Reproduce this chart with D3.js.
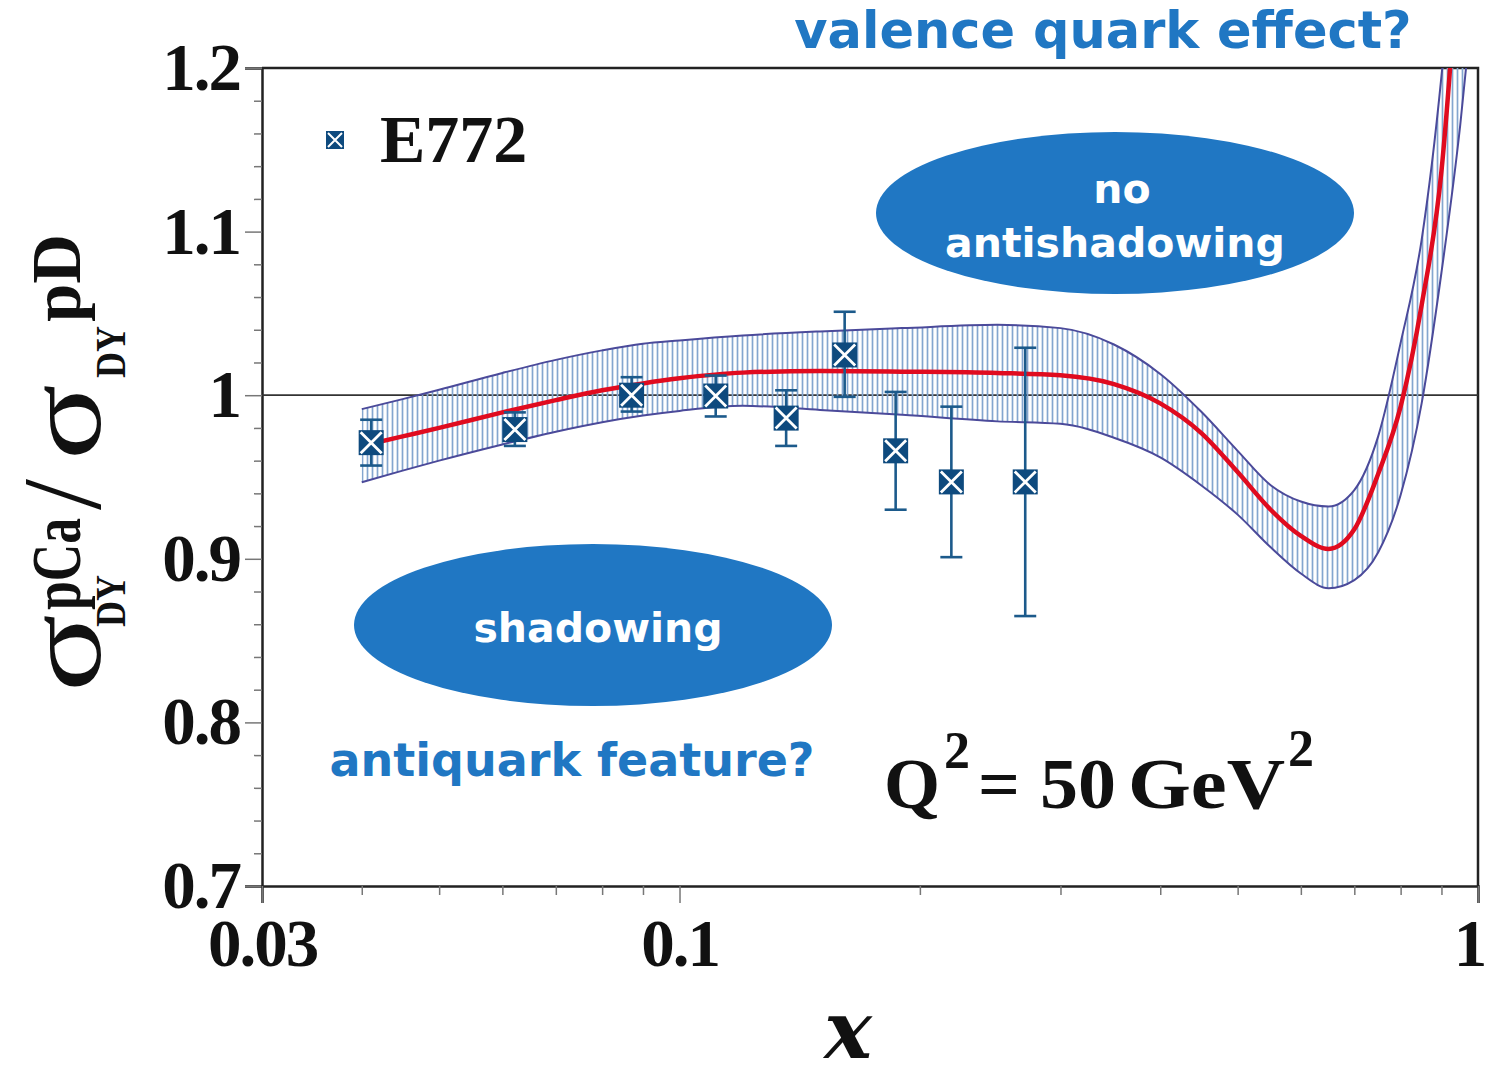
<!DOCTYPE html>
<html>
<head>
<meta charset="utf-8">
<script src="https://cdn.jsdelivr.net/npm/d3@7"></script>
<style>
  body { margin: 0; background: #fff; }
  svg { display: block; }
</style>
</head>
<body>
<div id="chart"></div>
<script>
// E772 data points (x, ratio, error bar low / high)
const e772X  = [0.0411, 0.0622, 0.0871, 0.111, 0.136, 0.161, 0.1865, 0.219, 0.271];
const e772Y  = [0.971, 0.979, 1.000, 0.9995, 0.986, 1.0246, 0.966, 0.947, 0.947];
const e772Lo = [0.957, 0.969, 0.990, 0.987, 0.969, 0.999, 0.930, 0.901, 0.865];
const e772Hi = [0.985, 0.9895, 1.011, 1.012, 1.003, 1.051, 1.002, 0.993, 1.029];

// fit curve and its uncertainty band
const curveX   = [0.040, 0.045, 0.05, 0.06, 0.07, 0.08, 0.09, 0.10, 0.12, 0.15, 0.19, 0.25, 0.30, 0.35, 0.40, 0.45, 0.50, 0.55, 0.60, 0.65, 0.70, 0.75, 0.80, 0.85, 0.90, 0.95, 0.98];
const curveMid = [0.969, 0.9748, 0.980, 0.9895, 0.997, 1.003, 1.0072, 1.0103, 1.0138, 1.0148, 1.0144, 1.0136, 1.0122, 1.0068, 0.995, 0.977, 0.953, 0.930, 0.914, 0.906, 0.918, 0.952, 0.993, 1.055, 1.137, 1.29, 1.40];
const curveUp  = [0.9915, 0.9976, 1.0033, 1.0136, 1.0216, 1.0274, 1.0315, 1.0335, 1.0365, 1.039, 1.041, 1.043, 1.041, 1.031, 1.013, 0.990, 0.966, 0.945, 0.935, 0.932, 0.942, 0.975, 1.032, 1.095, 1.195, 1.33, 1.45];
const curveLo  = [0.9468, 0.9539, 0.960, 0.9699, 0.9777, 0.9835, 0.9876, 0.9904, 0.9935, 0.991, 0.988, 0.984, 0.9825, 0.974, 0.962, 0.945, 0.927, 0.907, 0.891, 0.882, 0.887, 0.904, 0.939, 0.995, 1.075, 1.165, 1.23];

const yMajor = [0.7, 0.8, 0.9, 1.0, 1.1, 1.2];
const yMinor = [0.72, 0.74, 0.76, 0.78, 0.82, 0.84, 0.86, 0.88, 0.92, 0.94, 0.96, 0.98, 1.02, 1.04, 1.06, 1.08, 1.12, 1.14, 1.16, 1.18];
const xMajor = [0.03, 0.1, 1];
const xMinor = [0.04, 0.05, 0.06, 0.07, 0.08, 0.09, 0.2, 0.3, 0.4, 0.5, 0.6, 0.7, 0.8, 0.9];

const W = 1487, H = 1079;
const pLeft = 262, pRight = 1478, pTop = 68, pBottom = 886;
const serif = "'Liberation Serif', 'Times New Roman', serif";
const sans = "'DejaVu Sans', Verdana, sans-serif";
const blue = "#2077c3";

let svg = d3.select("#chart").append("svg")
    .attr("width", W).attr("height", H);

svg.append("rect").attr("width", W).attr("height", H).attr("fill", "#fff");

let x = d3.scaleLog().domain([0.03, 1]).range([pLeft, pRight]);
let y = d3.scaleLinear().domain([0.7, 1.2]).range([pBottom, pTop]);

let defs = svg.append("defs");
defs.append("clipPath").attr("id", "plotclip")
    .append("rect").attr("x", pLeft).attr("y", pTop)
    .attr("width", pRight - pLeft).attr("height", pBottom - pTop);
let pat = defs.append("pattern").attr("id", "hatch")
    .attr("patternUnits", "userSpaceOnUse")
    .attr("width", 5).attr("height", 10);
pat.append("line")
    .attr("x1", 2.5).attr("x2", 2.5).attr("y1", 0).attr("y2", 10)
    .attr("stroke", "#84a6cf").attr("stroke-width", 1.7);

// axes
let fmtY = d => d === 1 ? "1" : d.toFixed(1);
svg.append("g")
    .attr("transform", "translate(" + pLeft + ",0)")
    .call(d3.axisLeft(y).tickValues(yMajor).tickSize(17).tickPadding(5).tickFormat(fmtY));
svg.append("g")
    .attr("transform", "translate(" + pLeft + ",0)")
    .call(d3.axisLeft(y).tickValues(yMinor).tickSize(8).tickFormat(""))
    .call(g => g.select(".domain").remove());

svg.append("g")
    .attr("transform", "translate(0," + pBottom + ")")
    .call(d3.axisBottom(x).tickValues(xMajor).tickSize(17).tickPadding(15)
        .tickFormat(d => d === 1 ? "1" : String(d)))
    .call(g => g.selectAll(".tick text").filter(d => d === 1).attr("dx", -9));
svg.append("g")
    .attr("transform", "translate(0," + pBottom + ")")
    .call(d3.axisBottom(x).tickValues(xMinor).tickSize(9).tickFormat(""))
    .call(g => g.select(".domain").remove());

svg.selectAll(".tick line").attr("stroke", "#777").attr("stroke-width", 1.5);
svg.selectAll(".domain").attr("stroke", "#222").attr("stroke-width", 2.5);
svg.selectAll(".tick text")
    .attr("font-family", serif).attr("font-weight", "bold")
    .attr("font-size", 67).attr("fill", "#111")
    .attr("letter-spacing", -2);

// frame top / right
svg.append("path")
    .attr("d", "M" + pLeft + "," + pTop + "H" + pRight + "V" + pBottom)
    .attr("fill", "none").attr("stroke", "#222").attr("stroke-width", 2.5);

// reference line at 1
svg.append("line")
    .attr("x1", pLeft).attr("x2", pRight)
    .attr("y1", y(1)).attr("y2", y(1))
    .attr("stroke", "#333").attr("stroke-width", 1.8);

// band and fit curve
let plot = svg.append("g").attr("clip-path", "url(#plotclip)");
let pts = curveX.map((v, i) => ({x: v, mid: curveMid[i], up: curveUp[i], lo: curveLo[i]}));
let cr = d3.curveMonotoneX;

plot.append("path").datum(pts)
    .attr("d", d3.area().curve(cr).x(d => x(d.x)).y0(d => y(d.lo)).y1(d => y(d.up)))
    .attr("fill", "url(#hatch)");
["up", "lo"].forEach(k => {
    plot.append("path").datum(pts)
        .attr("d", d3.line().curve(cr).x(d => x(d.x)).y(d => y(d[k])))
        .attr("fill", "none").attr("stroke", "#4b4a9a").attr("stroke-width", 2);
});
plot.append("path").datum(pts)
    .attr("d", d3.line().curve(cr).x(d => x(d.x)).y(d => y(d.mid)))
    .attr("fill", "none").attr("stroke", "#e00b1f").attr("stroke-width", 4.5);

// data points
let data = e772X.map((v, i) => ({x: v, y: e772Y[i], lo: e772Lo[i], hi: e772Hi[i]}));
let eb = svg.append("g").attr("stroke", "#1c5a8b").attr("stroke-width", 2.6);
data.forEach(d => {
    let cx = x(d.x);
    eb.append("line").attr("x1", cx).attr("x2", cx).attr("y1", y(d.hi)).attr("y2", y(d.lo));
    eb.append("line").attr("x1", cx - 11).attr("x2", cx + 11).attr("y1", y(d.hi)).attr("y2", y(d.hi));
    eb.append("line").attr("x1", cx - 11).attr("x2", cx + 11).attr("y1", y(d.lo)).attr("y2", y(d.lo));
});

function marker(g, cx, cy, s) {
    g.append("rect").attr("x", cx - s / 2).attr("y", cy - s / 2)
        .attr("width", s).attr("height", s).attr("fill", "#0e4a7e");
    let a = s / 2 - 2;
    g.append("path")
        .attr("d", "M" + (cx - a) + "," + (cy - a) + "L" + (cx + a) + "," + (cy + a) +
                   "M" + (cx + a) + "," + (cy - a) + "L" + (cx - a) + "," + (cy + a))
        .attr("stroke", "#fff").attr("stroke-width", s / 9);
}
let mk = svg.append("g");
data.forEach(d => marker(mk, x(d.x), y(d.y), 25));

// legend
marker(svg, 335, 140, 18);
svg.append("text").attr("x", 380).attr("y", 162)
    .attr("font-family", serif).attr("font-weight", "bold")
    .attr("font-size", 68).attr("fill", "#111").text("E772");

// Q^2 label
let q = svg.append("g")
    .attr("font-family", serif).attr("font-weight", "bold").attr("fill", "#111");
q.append("text").attr("x", 884).attr("y", 808).attr("font-size", 72)
    .attr("textLength", 56).attr("lengthAdjust", "spacingAndGlyphs").text("Q");
q.append("text").attr("x", 944).attr("y", 768).attr("font-size", 52).text("2");
q.append("text").attr("x", 978).attr("y", 808).attr("font-size", 72)
    .attr("textLength", 42).attr("lengthAdjust", "spacingAndGlyphs").text("=");
q.append("text").attr("x", 1040).attr("y", 808).attr("font-size", 72)
    .attr("textLength", 76).attr("lengthAdjust", "spacingAndGlyphs").text("50");
q.append("text").attr("x", 1128).attr("y", 808).attr("font-size", 72)
    .attr("textLength", 157).attr("lengthAdjust", "spacingAndGlyphs").text("GeV");
q.append("text").attr("x", 1288).attr("y", 766).attr("font-size", 52).text("2");

// y axis title, built in a rotated frame
let yt = svg.append("g").attr("transform", "rotate(-90)")
    .attr("font-family", serif).attr("fill", "#111");
yt.append("text").attr("x", -692).attr("y", 100).attr("font-size", 108)
    .attr("textLength", 78).attr("lengthAdjust", "spacingAndGlyphs").text("σ");
yt.append("text").attr("x", -627).attr("y", 125).attr("font-size", 42).attr("font-weight", "bold")
    .attr("textLength", 52).attr("lengthAdjust", "spacingAndGlyphs").text("DY");
yt.append("text").attr("x", -610).attr("y", 80).attr("font-size", 70).attr("font-weight", "bold")
    .attr("textLength", 92).attr("lengthAdjust", "spacingAndGlyphs").text("pCa");
yt.append("text").attr("x", -510).attr("y", 100).attr("font-size", 112).text("/");
yt.append("text").attr("x", -460).attr("y", 100).attr("font-size", 108)
    .attr("textLength", 76).attr("lengthAdjust", "spacingAndGlyphs").text("σ");
yt.append("text").attr("x", -378).attr("y", 125).attr("font-size", 42).attr("font-weight", "bold")
    .attr("textLength", 52).attr("lengthAdjust", "spacingAndGlyphs").text("DY");
yt.append("text").attr("x", -322).attr("y", 80).attr("font-size", 70).attr("font-weight", "bold")
    .attr("textLength", 88).attr("lengthAdjust", "spacingAndGlyphs").text("pD");

// x axis title
svg.append("text").attr("x", 848).attr("y", 1058).attr("text-anchor", "middle")
    .attr("font-family", "'DejaVu Serif', serif").attr("font-weight", "bold").attr("font-style", "italic")
    .attr("font-size", 80).attr("fill", "#111").text("x");

// annotations
svg.append("ellipse").attr("cx", 1115).attr("cy", 213).attr("rx", 239).attr("ry", 81).attr("fill", blue);
svg.append("ellipse").attr("cx", 593).attr("cy", 625).attr("rx", 239).attr("ry", 81).attr("fill", blue);

let ann = svg.append("g").attr("font-family", sans).attr("font-weight", "bold");
ann.append("text").attr("x", 1122).attr("y", 203).attr("text-anchor", "middle")
    .attr("font-size", 41).attr("fill", "#fff").text("no");
ann.append("text").attr("x", 1115).attr("y", 257).attr("text-anchor", "middle")
    .attr("font-size", 41).attr("fill", "#fff").text("antishadowing");
ann.append("text").attr("x", 598).attr("y", 642).attr("text-anchor", "middle")
    .attr("font-size", 41).attr("fill", "#fff").text("shadowing");
ann.append("text").attr("x", 1103).attr("y", 48).attr("text-anchor", "middle")
    .attr("font-size", 51).attr("fill", blue).text("valence quark effect?");
ann.append("text").attr("x", 572).attr("y", 776).attr("text-anchor", "middle")
    .attr("font-size", 46).attr("fill", blue).text("antiquark feature?");
</script>
</body>
</html>
